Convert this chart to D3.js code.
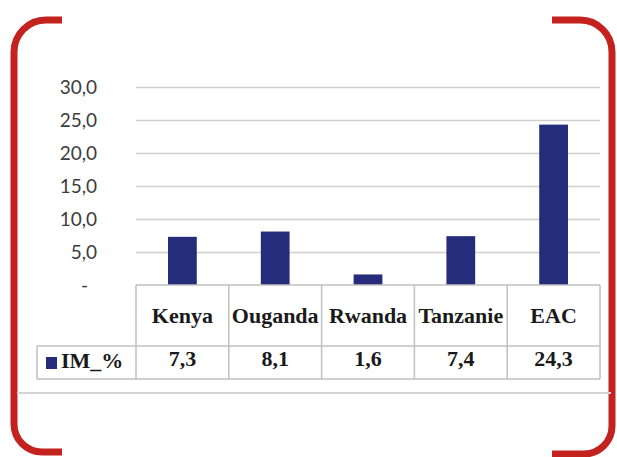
<!DOCTYPE html>
<html>
<head>
<meta charset="utf-8">
<script src="https://cdn.jsdelivr.net/npm/d3@7"></script>
<style>
  html, body { margin: 0; padding: 0; background: #ffffff; }
  svg { display: block; }
  .serif { font-family: "Liberation Serif", Tinos, "Times New Roman", Times, "DejaVu Serif", serif; font-weight: bold; }
</style>
</head>
<body>
<svg id="chart" width="617" height="457"></svg>
<script>
const categories = ["Kenya", "Ouganda", "Rwanda", "Tanzanie", "EAC"];
const seriesName = "IM_%";
const values = [7.3, 8.1, 1.6, 7.4, 24.3];
const valueLabels = ["7,3", "8,1", "1,6", "7,4", "24,3"];
const yTicks = [0, 5, 10, 15, 20, 25, 30];
const yTickLabels = ["-", "5,0", "10,0", "15,0", "20,0", "25,0", "30,0"];

const svg = d3.select("#chart");

const plotLeft = 136, plotRight = 600, plotTop = 87, plotBottom = 285;
const tableLeft = 37, rowMid = 346, tableBottom = 379;

const y = d3.scaleLinear().domain([0, 30]).range([plotBottom, plotTop]);
const xCol = d3.scaleBand().domain(categories).range([plotLeft, plotRight]).padding(0);
const xBar = d3.scaleBand().domain(categories).range([plotLeft, plotRight])
  .paddingInner(0.69).paddingOuter(0.345);

const barColor = "#252c7c";
const gridColor = "#d0d0d0";
const borderColor = "#c0c0c0";
const red = "#c4221f";

// Red brackets
svg.append("path")
  .attr("d", "M62,20 H46 A32,32 0 0 0 14,52 V424 A28,28 0 0 0 42,452 H62")
  .attr("fill", "none").attr("stroke", red).attr("stroke-width", 7);
svg.append("path")
  .attr("d", "M552,20 H580 A32,32 0 0 1 612,52 V426 A28,28 0 0 1 584,454 H552")
  .attr("fill", "none").attr("stroke", red).attr("stroke-width", 7);

// Gridlines
const grid = svg.append("g")
  .attr("transform", `translate(${plotLeft},0)`)
  .call(d3.axisLeft(y).tickValues(yTicks.filter(d => d > 0)).tickSize(-(plotRight - plotLeft)).tickFormat(""));
grid.select(".domain").remove();
grid.selectAll(".tick line").attr("stroke", gridColor).attr("stroke-width", 1.6);

// Y axis labels
const yAxis = svg.append("g")
  .attr("transform", `translate(97,0)`)
  .call(d3.axisLeft(y).tickValues(yTicks).tickSize(0).tickPadding(0)
    .tickFormat((d, i) => yTickLabels[i]));
yAxis.select(".domain").remove();
yAxis.selectAll(".tick text")
  .attr("font-family", "Lato, 'Open Sans', sans-serif")
  .attr("font-size", 19)
  .attr("fill", "#3c3c3c")
  .attr("dx", (d) => d === 0 ? -9 : 0);

// Bars
svg.append("g").selectAll("rect")
  .data(values)
  .join("rect")
  .attr("x", (d, i) => xBar(categories[i]))
  .attr("width", xBar.bandwidth())
  .attr("y", d => y(d))
  .attr("height", d => y(0) - y(d))
  .attr("fill", barColor);

// Data table
const tbl = svg.append("g").attr("stroke", borderColor).attr("stroke-width", 1.5).attr("fill", "none");
tbl.append("line").attr("x1", plotLeft).attr("x2", plotRight).attr("y1", plotBottom).attr("y2", plotBottom);
tbl.append("line").attr("x1", tableLeft).attr("x2", plotRight).attr("y1", rowMid).attr("y2", rowMid);
tbl.append("line").attr("x1", tableLeft).attr("x2", plotRight).attr("y1", tableBottom).attr("y2", tableBottom);
tbl.append("line").attr("x1", tableLeft).attr("x2", tableLeft).attr("y1", rowMid).attr("y2", tableBottom);
const colEdges = categories.map(c => xCol(c)).concat([plotRight]);
tbl.selectAll("line.col").data(colEdges).join("line").attr("class", "col")
  .attr("x1", d => d).attr("x2", d => d).attr("y1", plotBottom).attr("y2", tableBottom);

svg.append("g").selectAll("text")
  .data(categories)
  .join("text")
  .attr("class", "serif")
  .attr("x", d => xCol(d) + xCol.bandwidth() / 2)
  .attr("y", 323)
  .attr("text-anchor", "middle")
  .attr("font-size", 22)
  .attr("fill", "#1a1a1a")
  .text(d => d);

svg.append("g").selectAll("text")
  .data(valueLabels)
  .join("text")
  .attr("class", "serif")
  .attr("x", (d, i) => xCol(categories[i]) + xCol.bandwidth() / 2)
  .attr("y", 366)
  .attr("text-anchor", "middle")
  .attr("font-size", 22)
  .attr("fill", "#1a1a1a")
  .text(d => d);

// Legend key in table
svg.append("rect").attr("x", 46).attr("y", 357).attr("width", 11).attr("height", 12).attr("fill", barColor);
svg.append("text").attr("class", "serif").attr("x", 61).attr("y", 368)
  .attr("font-size", 22)
  .attr("fill", "#1a1a1a")
  .text(seriesName);

// Bottom separator line
svg.append("line").attr("x1", 17).attr("x2", 611).attr("y1", 393).attr("y2", 393)
  .attr("stroke", "#d4d4d4").attr("stroke-width", 2);
</script>
</body>
</html>
